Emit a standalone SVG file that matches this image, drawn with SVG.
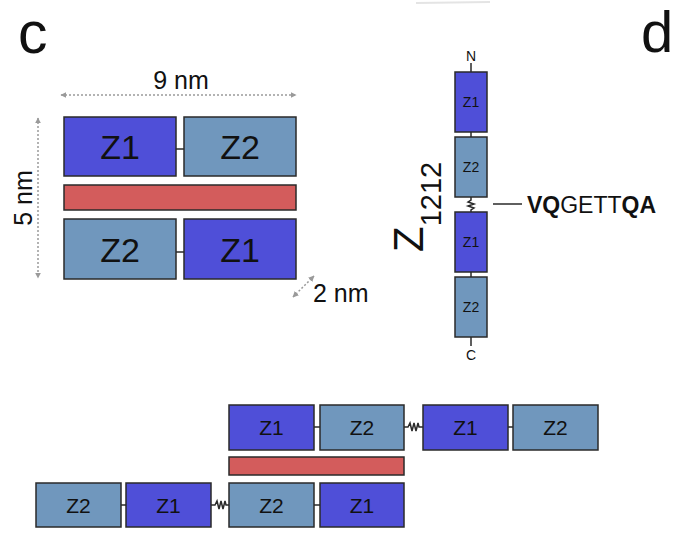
<svg xmlns="http://www.w3.org/2000/svg" width="675" height="533" viewBox="0 0 675 533">
<defs>
<style>
text{font-family:"Liberation Sans",Arial,sans-serif;fill:#111}
.b1{fill:#4f4fd8;stroke:#2a2a2a;stroke-width:1.5}
.b2{fill:#7097bd;stroke:#2a2a2a;stroke-width:1.5}
.red{fill:#d35c5c;stroke:#2a2a2a;stroke-width:1.5}
.ln{stroke:#2a2a2a;stroke-width:1.5;fill:none}
.dim{stroke:#9a9a9a;stroke-width:1.5;stroke-dasharray:2 2;fill:none}
.big{font-size:34px;text-anchor:middle}
.mid{font-size:21px;text-anchor:middle}
.sm{font-size:14px;text-anchor:middle}
.lab{font-size:25px}
</style>
<marker id="ah" viewBox="0 0 10 10" refX="9" refY="5" markerWidth="4" markerHeight="4" orient="auto-start-reverse" markerUnits="strokeWidth">
<path d="M0,0 L10,5 L0,10 z" fill="#9a9a9a"/>
</marker>
</defs>

<path d="M416,3 L490,2" stroke="#e4e4e4" stroke-width="2" fill="none"/>

<text x="18" y="53" font-size="59">c</text>
<text x="641" y="52" font-size="58">d</text>

<g id="dimensions">
<path class="dim" d="M61,95 L296,95" marker-start="url(#ah)" marker-end="url(#ah)"/>
<text class="lab" x="181" y="89" text-anchor="middle">9 nm</text>
<path class="dim" d="M38,118 L38,278" marker-start="url(#ah)" marker-end="url(#ah)"/>
<text class="lab" transform="translate(32,198) rotate(-90)" text-anchor="middle">5 nm</text>
<path class="dim" d="M293,297 L314,276" marker-start="url(#ah)" marker-end="url(#ah)"/>
<text class="lab" x="313" y="302">2 nm</text>
</g>

<g id="connectors">
<path class="ln" d="M176,149 L184,149"/>
<path class="ln" d="M176,252 L184,252"/>
<path class="ln" d="M471,63 L471,72"/>
<path class="ln" d="M471,132 L471,137"/>
<path class="ln" d="M471,197 L471,200 L468,202 L474,204 L468,206 L474,208 L471,210 L471,212"/>
<path class="ln" d="M471,272 L471,277"/>
<path class="ln" d="M471,337 L471,346"/>
<path class="ln" d="M493,204 L522,204"/>
<path class="ln" d="M314,427 L320,427"/>
<path class="ln" d="M404,427 L408,427 L410,423 L412,431 L414,423 L416,431 L418,423 L419,427 L423,427"/>
<path class="ln" d="M508,427 L513,427"/>
<path class="ln" d="M121,505 L126,505"/>
<path class="ln" d="M211,505 L215,505 L217,501 L219,509 L221,501 L223,509 L225,501 L226,505 L229,505"/>
<path class="ln" d="M314,505 L320,505"/>
</g>

<g id="c-top-z1"><rect class="b1" x="64" y="117" width="112" height="59"/><text class="big" x="120" y="159">Z1</text></g>
<g id="c-top-z2"><rect class="b2" x="184" y="117" width="112" height="59"/><text class="big" x="240" y="159">Z2</text></g>
<g id="c-bar"><rect class="red" x="64" y="185" width="232" height="25"/></g>
<g id="c-bot-z2"><rect class="b2" x="64" y="219" width="112" height="60"/><text class="big" x="120" y="262">Z2</text></g>
<g id="c-bot-z1"><rect class="b1" x="184" y="219" width="112" height="60"/><text class="big" x="240" y="262">Z1</text></g>

<g id="d-chain">
<text class="sm" x="471" y="61" font-size="13">N</text>
<rect class="b1" x="455" y="72" width="32" height="60"/><text class="sm" x="471" y="107">Z1</text>
<rect class="b2" x="455" y="137" width="32" height="60"/><text class="sm" x="471" y="172">Z2</text>
<rect class="b1" x="455" y="212" width="32" height="60"/><text class="sm" x="471" y="247">Z1</text>
<rect class="b2" x="455" y="277" width="32" height="60"/><text class="sm" x="471" y="312">Z2</text>
<text class="sm" x="471" y="360">C</text>
</g>
<g id="d-label">
<text transform="translate(423,252) rotate(-90)" font-size="42">Z<tspan font-size="29" dy="18">1212</tspan></text>
</g>
<g id="d-linker">
<text x="527" y="213" font-size="23"><tspan font-weight="bold">VQ</tspan>GETT<tspan font-weight="bold">QA</tspan></text>
</g>

<g id="e-top-z1"><rect class="b1" x="229" y="405" width="85" height="45"/><text class="mid" x="271.5" y="435">Z1</text></g>
<g id="e-top-z2"><rect class="b2" x="320" y="405" width="84" height="45"/><text class="mid" x="362" y="435">Z2</text></g>
<g id="e-top-z1b"><rect class="b1" x="423" y="405" width="85" height="45"/><text class="mid" x="465.5" y="435">Z1</text></g>
<g id="e-top-z2b"><rect class="b2" x="513" y="405" width="85" height="45"/><text class="mid" x="555.5" y="435">Z2</text></g>
<g id="e-bar"><rect class="red" x="229" y="457" width="175" height="18"/></g>
<g id="e-bot-z2"><rect class="b2" x="36" y="483" width="85" height="44"/><text class="mid" x="78.5" y="513">Z2</text></g>
<g id="e-bot-z1"><rect class="b1" x="126" y="483" width="85" height="44"/><text class="mid" x="168.5" y="513">Z1</text></g>
<g id="e-bot-z2b"><rect class="b2" x="229" y="483" width="85" height="44"/><text class="mid" x="271.5" y="513">Z2</text></g>
<g id="e-bot-z1b"><rect class="b1" x="320" y="483" width="84" height="44"/><text class="mid" x="362" y="513">Z1</text></g>
</svg>
